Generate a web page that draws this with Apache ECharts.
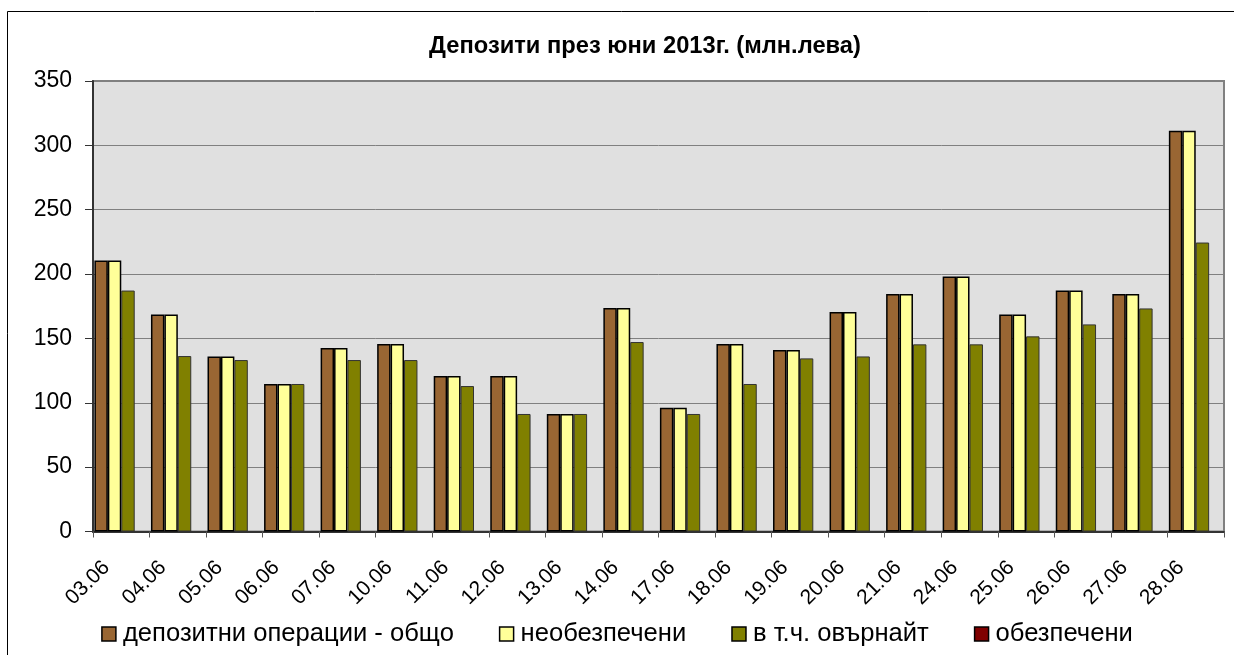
<!DOCTYPE html>
<html>
<head>
<meta charset="utf-8">
<script src="https://cdn.jsdelivr.net/npm/echarts@6/dist/echarts.min.js"></script>
<style>
html,body{margin:0;padding:0;background:#fff;}
#c{width:1234px;height:655px;}
</style>
</head>
<body>
<div id="c"></div>
<script>
const categories = ["03.06","04.06","05.06","06.06","07.06","10.06","11.06","12.06","13.06","14.06","17.06","18.06","19.06","20.06","21.06","24.06","25.06","26.06","27.06","28.06"];
const total = [210.5,168.6,136,114.6,142.6,145.7,120.8,120.8,91.3,173.6,96.2,145.7,141,170.5,184.5,198.1,168.6,187.3,184.5,311.4];
const unsecured = [210.5,168.6,136,114.6,142.6,145.7,120.8,120.8,91.3,173.6,96.2,145.7,141,170.5,184.5,198.1,168.6,187.3,184.5,311.4];
const overnight = [187.2,136.3,133.2,114.6,133.2,133.2,113,91.3,91.3,147.2,91.3,114.6,134.5,136,145.4,145.4,151.6,160.9,173.3,224.5];
const secured = [0,0,0,0,0,0,0,0,0,0,0,0,0,0,0,0,0,0,0,0];
const seriesNames = ["депозитни операции - общо","необезпечени","в т.ч. овърнайт","обезпечени"];
const yTicks = [0,50,100,150,200,250,300,350];
const titleText = "Депозити през юни 2013г. (млн.лева)";

const FONT = "Liberation Sans, Arial, sans-serif";
const chart = echarts.init(document.getElementById('c'), null, {renderer:'canvas'});
function bar(name, data, color, bw, bc){
  return {
    name: name, type: 'bar', data: data,
    barGap: '0%', barCategoryGap: '5%',
    itemStyle: {color: color, borderColor: bc, borderWidth: bw},
    emphasis: {disabled: true},
    animation: false
  };
}
chart.setOption({
  animation: false,
  backgroundColor: '#ffffff',
  title: {
    text: titleText, left: 640, textAlign: 'center', top: 29,
    textStyle: {fontFamily: FONT, fontSize: 23.7, fontWeight: 'bold', color: '#000'}
  },
  graphic: [{
    type: 'rect', shape: {x: 7.5, y: 11.5, width: 1300, height: 700},
    style: {fill: 'none', stroke: '#000', lineWidth: 1}, silent: true, z: 100
  }],
  legend: {
    bottom: 3, left: 'center', itemGap: 45, itemWidth: 14, itemHeight: 14,
    icon: 'rect',
    textStyle: {fontFamily: FONT, fontSize: 25.6, color: '#000', padding: [0,0,0,2]},
    data: seriesNames.map((n, i) => ({name: n, itemStyle: {borderColor: '#000', borderWidth: 1.5}}))
  },
  grid: {
    left: 93, top: 81, right: 10, bottom: 123.5,
    show: true, backgroundColor: '#E0E0E0', borderColor: '#808080', borderWidth: 2
  },
  xAxis: {
    type: 'category', data: categories,
    axisLine: {lineStyle: {color: '#333', width: 2}},
    axisTick: {show: true, length: 6, lineStyle: {color: '#555', width: 1}, alignWithLabel: false},
    axisLabel: {rotate: 45, fontFamily: FONT, fontSize: 21, color: '#000', margin: 18, interval: 0,
      padding: [0, 21, 0, 0]}
  },
  yAxis: {
    type: 'value', min: 0, max: 350, interval: 50,
    axisLine: {show: true, lineStyle: {color: '#333', width: 2}},
    axisTick: {show: true, length: 8, lineStyle: {color: '#333', width: 1}},
    axisLabel: {fontFamily: FONT, fontSize: 23, color: '#000', margin: 21,
      formatter: v => yTicks.includes(v) ? String(v) : ''},
    splitLine: {lineStyle: {color: '#808080', width: 1}}
  },
  series: [
    bar(seriesNames[0], total, '#996633', 1.5, '#000'),
    bar(seriesNames[1], unsecured, '#FFFF99', 1.5, '#000'),
    bar(seriesNames[2], overnight, '#808000', 1, '#333'),
    bar(seriesNames[3], secured, '#800000', 0, '#000')
  ]
});
</script>
</body>
</html>
